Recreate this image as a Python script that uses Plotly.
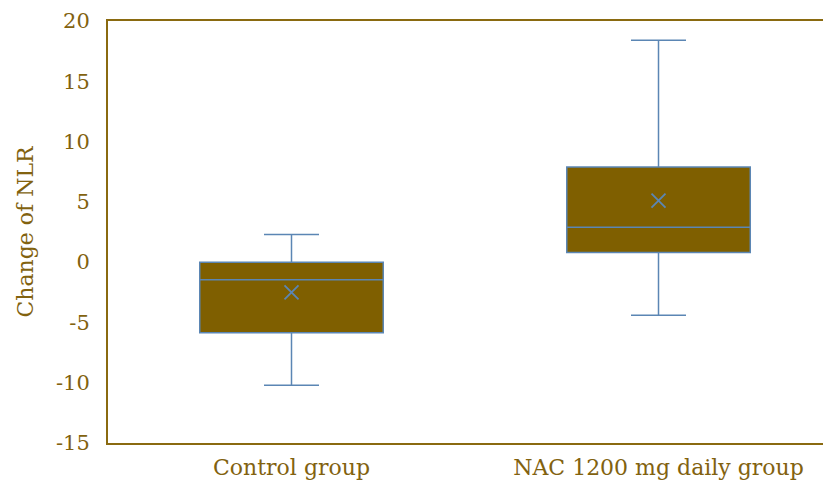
import plotly.graph_objects as go

categories = ["Control group", "NAC 1200 mg daily group"]
lower_whisker = [-10.2, -4.4]
q1_vals = [-5.85, 0.8]
median_vals = [-1.45, 2.9]
q3_vals = [0.0, 7.9]
upper_whisker = [2.3, 18.4]
mean_vals = [-2.5, 5.1]
y_ticks = [-15, -10, -5, 0, 5, 10, 15, 20]

text_color = "#82620f"
fill_color = "#7f5f00"
line_blue = "#5b86b4"
font_family = "DejaVu Serif, Georgia, serif"

fig = go.Figure()
fig.add_trace(go.Box(
    x=categories,
    q1=q1_vals, median=median_vals, q3=q3_vals,
    lowerfence=lower_whisker, upperfence=upper_whisker,
    fillcolor=fill_color,
    line=dict(color=line_blue, width=1.5),
    width=0.5, whiskerwidth=0.3,
    boxpoints=False, showlegend=False, hoverinfo="skip",
))
fig.add_trace(go.Scatter(
    x=categories, y=mean_vals, mode="markers",
    marker=dict(symbol="x-thin", size=14, line=dict(color=line_blue, width=1.8)),
    showlegend=False, hoverinfo="skip",
))

fig.update_layout(
    width=823, height=479,
    margin=dict(l=100, r=0, t=13, b=44, autoexpand=False),
    paper_bgcolor="white", plot_bgcolor="white",
    font=dict(family=font_family, color=text_color, size=20),
    xaxis=dict(
        range=[-0.5, 1.47], automargin=False,
        showline=True, linecolor="#8a6a10", linewidth=2, mirror=True,
        showgrid=False, ticks="", zeroline=False,
        tickfont=dict(size=22, color=text_color),
        ticklabelstandoff=4,
    ),
    yaxis=dict(
        range=[-15, 20], tickvals=y_ticks, automargin=False,
        ticktext=[str(v) for v in y_ticks],
        showline=True, linecolor="#8a6a10", linewidth=2,
        showgrid=False, zeroline=False, ticks="",
        tickfont=dict(size=21, color=text_color),
        ticklabelstandoff=12,
        title=dict(text="Change of NLR", font=dict(size=22, color=text_color), standoff=16),
    ),
)

fig.write_html("out.html")
